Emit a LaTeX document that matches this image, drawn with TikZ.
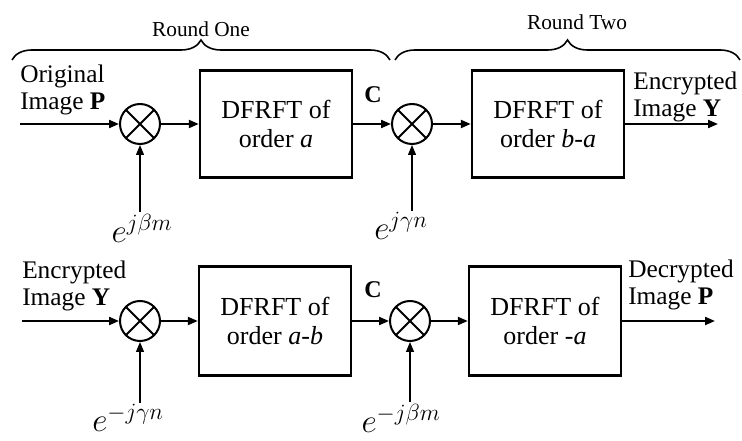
\documentclass[tikz,border=0pt]{standalone}
\usepackage{fix-cm}
\usepackage{fontspec}
\setmainfont{Liberation Serif}
\usetikzlibrary{arrows.meta,decorations.pathreplacing}
\tikzset{
  blk/.style={draw,line width=1.8pt,minimum width=114pt,minimum height=80pt,align=center,font=\fontsize{19.5}{22}\selectfont},
  mult/.style={draw,circle,line width=1.5pt,minimum size=30pt,inner sep=0pt,
    path picture={\draw[line width=1.5pt] (path picture bounding box.north west) -- (path picture bounding box.south east)
      (path picture bounding box.north east) -- (path picture bounding box.south west);}},
  sig/.style={line width=1.5pt,-{Triangle[length=7.5pt,width=6pt]}},
  ctrl/.style={line width=0.9pt,-{Triangle[length=7.5pt,width=6pt]}},
  lbl/.style={align=left,font=\fontsize{19}{20}\selectfont,inner sep=0pt},
  cc/.style={font=\bfseries\fontsize{18}{20}\selectfont},
  expo/.style={font=\fontsize{25}{27}\selectfont,inner sep=1pt},
  rnd/.style={font=\fontsize{16}{18}\selectfont},
  brc/.style={decorate,decoration={brace,amplitude=15pt},line width=1.2pt}
}
\begin{document}
\begin{tikzpicture}[x=0.75pt,y=-0.75pt]
\useasboundingbox (0,0) rectangle (742,441);
% rounds
\draw[brc] (12,60) -- (390,60);
\node[rnd] (r1) at (201,29) {Round One};
\draw[brc] (395,60) -- (740,60);
\node[rnd] (r2) at (577,22) {Round Two};

% encryption
\coordinate (in1) at (20,124);
\node[mult] (m1) at (140,124) {};
\node[blk] (b1) at (276,124) {DFRFT of\\order \textit{a}};
\node[mult] (m2) at (412,124) {};
\node[blk] (b2) at (548,124) {DFRFT of\\order \textit{b}-\textit{a}};
\coordinate (out1) at (718,124);
\node[lbl,anchor=west] (orig) at (20,90) {Original\\Image \textbf{P}};
\node[lbl,anchor=west] (enc1) at (633,97) {Encrypted\\Image \textbf{Y}};
\node[cc] (c1) at (373,95) {C};
\node[expo] (e1) at (142,228) {$e^{j\beta m}$};
\node[expo] (e2) at (401,226) {$e^{j\gamma n}$};

% decryption
\coordinate (in2) at (22,321);
\node[mult] (m3) at (140,321) {};
\node[blk,minimum height=82pt] (b3) at (275,321) {DFRFT of\\order \textit{a}-\textit{b}};
\node[mult] (m4) at (410,321) {};
\node[blk,minimum height=82pt] (b4) at (545,321) {DFRFT of\\order -\textit{a}};
\coordinate (out2) at (715,321);
\node[lbl,anchor=west] (enc2) at (22,286) {Encrypted\\Image \textbf{Y}};
\node[lbl,anchor=west] (dec) at (628,285) {Decrypted\\Image \textbf{P}};
\node[cc] (c2) at (373,290) {C};
\node[expo] (e3) at (128,418) {$e^{-j\gamma n}$};
\node[expo] (e4) at (401,418) {$e^{-j\beta m}$};

\foreach \a/\b in {in1/m1,m1/b1,b1/m2,m2/b2,b2/out1,in2/m3,m3/b3,b3/m4,m4/b4,b4/out2}
  \draw[sig] (\a) -- (\b);
\foreach \m/\e in {m1/e1,m2/e2,m3/e3,m4/e4}
  \draw[ctrl] (\m.south |- \e.north) -- (\m.south);
\end{tikzpicture}
\end{document}
